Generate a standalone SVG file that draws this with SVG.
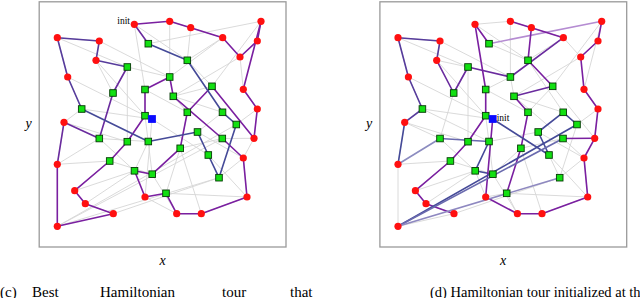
<svg xmlns="http://www.w3.org/2000/svg" xmlns:xlink="http://www.w3.org/1999/xlink" width="640" height="298" viewBox="0 0 640 298">
<style>
.frame{fill:#fff;stroke:#9a9a9a;stroke-width:1.3}
.gray{fill:none;stroke:#d6d6d6;stroke-width:0.9}
.tl{stroke-width:1.6;stroke-linecap:round;fill:none}
.t1{stroke:#7a1fa0}
.t2{stroke:#6a2b9e}
.t3{stroke:#573c9c}
.t4{stroke:#454a98}
.t4l{stroke:#6a6aae}
.lp{stroke:#b58cd2}
.lb{stroke:#8c8cc0}
.lv{stroke:#8e88c0}
.lab{font-family:"Liberation Serif","Times New Roman",serif;fill:#000}
.ax{font-style:italic;font-size:14px;text-anchor:middle}
.init{font-size:9.5px}
.cap{font-size:15px}
.capd{font-size:14.5px}
</style>
<defs>
<circle id="rn" r="3.6" fill="#ff1010"/>
<rect id="gn" x="-3.3" y="-3.3" width="6.6" height="6.6" fill="#12e012" stroke="#063a06" stroke-width="0.9"/>
<rect id="bn" x="-3.9" y="-3.9" width="7.8" height="7.8" fill="#0a0aff"/>
<path id="extras" d="M134.3 24.3L187.3 60.3M99.3 41L169.7 77M96 60.3L145 115.7M67.7 77L145 115.7M127.3 67L127.3 141.7M169.7 21.3L169.7 77M240 57L173.3 96.3M81.7 109L152 119M99.3 138.5L134.5 170.8M85.3 203.7L134.5 170.8M180.2 148.3L222.3 138.5M208.3 155L247 197M166 193.3L247 197M197.5 132L243.3 158M236.3 124.5L257.3 109M145 89.5L187.3 112.3M180.2 148.3L201.3 213.7M152.2 174.2L176.7 213.7M64 122.3L127.3 141.7M109.7 161L152.2 174.2M222.7 37.7L187.3 60.3M243.3 158L219 177.7M261 21.3L212 86.3M57.3 37.7L127.3 67M57.3 164.3L109.7 161M145 115.7L152.2 174.2M173.3 96.3L222.5 112.3M74.7 190.7L134.5 170.8M113.3 213.7L219 177.7"/>
</defs>
<rect width="640" height="298" fill="#fff"/>

<!-- ===== Panel (c) ===== -->
<g id="panel-c">
<rect class="frame" x="39.2" y="1.8" width="246.8" height="245.2"/>
<g id="connectors-c">
<use href="#extras" class="gray"/>
<path class="gray" d="M57.3 37.7L99.3 41M99.3 41L96 60.3M96 60.3L113 93M113 93L127.3 67M127.3 67L169.7 77M169.7 77L222.7 37.7M57.3 37.7L67.7 77M67.7 77L81.7 109M81.7 109L64 122.3M64 122.3L57.3 164.3M57.3 164.3L99.3 138.5M99.3 138.5L148.3 141.5M148.3 141.5L134.5 170.8M134.5 170.8L152.2 174.2M134.3 24.3L148.3 43.7M134.3 24.3L145 89.5M145 89.5L145 115.7M145 115.7L127.3 141.7M127.3 141.7L109.7 161M109.7 161L74.7 190.7M74.7 190.7L85.3 203.7M85.3 203.7L113.3 213.7M148.3 43.7L261 21.3M169.7 21.3L190.7 27.7M190.7 27.7L222.7 37.7M190.7 27.7L187.3 60.3M187.3 60.3L212 86.3M212 86.3L173.3 96.3M173.3 96.3L187.3 112.3M187.3 112.3L180.2 148.3M180.2 148.3L166 193.3M261 21.3L257.3 41M257.3 41L240 57M240 57L243.3 89.3M243.3 89.3L257.3 109M257.3 109L254 138.3M254 138.3L222.3 138.5M254 138.3L243.3 158M243.3 158L247 197M247 197L201.3 213.7M201.3 213.7L176.7 213.7M176.7 213.7L145 197M145 197L152 119M152 119L208.3 155M208.3 155L197.5 132M197.5 132L222.5 112.3M222.5 112.3L236.3 124.5M236.3 124.5L57.3 226.3M57.3 226.3L222.3 138.5M57.3 226.3L219 177.7"/>
<g id="tour-c">
<line class="tl t1" x1="134.3" y1="24.3" x2="169.7" y2="21.3"/>
<line class="tl t1" x1="169.7" y1="21.3" x2="190.7" y2="27.7"/>
<line class="tl t1" x1="190.7" y1="27.7" x2="222.7" y2="37.7"/>
<line class="tl t1" x1="222.7" y1="37.7" x2="240" y2="57"/>
<line class="tl t1" x1="240" y1="57" x2="257.3" y2="41"/>
<line class="tl t1" x1="257.3" y1="41" x2="261" y2="21.3"/>
<line class="tl t1" x1="261" y1="21.3" x2="243.3" y2="89.3"/>
<line class="tl t1" x1="243.3" y1="89.3" x2="257.3" y2="109"/>
<line class="tl t1" x1="257.3" y1="109" x2="254" y2="138.3"/>
<line class="tl t1" x1="254" y1="138.3" x2="212" y2="86.3"/>
<line class="tl t1" x1="212" y1="86.3" x2="187.3" y2="112.3"/>
<line class="tl t1" x1="187.3" y1="112.3" x2="180.2" y2="148.3"/>
<line class="tl t1" x1="180.2" y1="148.3" x2="152.2" y2="174.2"/>
<line class="tl t1" x1="152.2" y1="174.2" x2="134.5" y2="170.8"/>
<line class="tl t1" x1="134.5" y1="170.8" x2="145" y2="197"/>
<line class="tl t1" x1="145" y1="197" x2="166" y2="193.3"/>
<line class="tl t1" x1="166" y1="193.3" x2="176.7" y2="213.7"/>
<line class="tl t1" x1="176.7" y1="213.7" x2="201.3" y2="213.7"/>
<line class="tl t1" x1="201.3" y1="213.7" x2="247" y2="197"/>
<line class="tl t1" x1="247" y1="197" x2="243.3" y2="158"/>
<line class="tl t1" x1="243.3" y1="158" x2="222.3" y2="138.5"/>
<line class="tl t1" x1="222.3" y1="138.5" x2="173.3" y2="96.3"/>
<line class="tl t1" x1="173.3" y1="96.3" x2="169.7" y2="77"/>
<line class="tl t1" x1="169.7" y1="77" x2="145" y2="89.5"/>
<line class="tl t1" x1="145" y1="89.5" x2="145" y2="115.7"/>
<line class="tl t1" x1="145" y1="115.7" x2="127.3" y2="141.7"/>
<line class="tl t1" x1="127.3" y1="141.7" x2="109.7" y2="161"/>
<line class="tl t1" x1="109.7" y1="161" x2="74.7" y2="190.7"/>
<line class="tl t1" x1="74.7" y1="190.7" x2="85.3" y2="203.7"/>
<line class="tl t1" x1="85.3" y1="203.7" x2="113.3" y2="213.7"/>
<line class="tl t1" x1="113.3" y1="213.7" x2="57.3" y2="226.3"/>
<line class="tl t1" x1="57.3" y1="226.3" x2="57.3" y2="164.3"/>
<line class="tl t2" x1="57.3" y1="164.3" x2="64" y2="122.3"/>
<line class="tl t2" x1="64" y1="122.3" x2="99.3" y2="138.5"/>
<line class="tl t2" x1="99.3" y1="138.5" x2="113" y2="93"/>
<line class="tl t2" x1="113" y1="93" x2="127.3" y2="67"/>
<line class="tl t3" x1="127.3" y1="67" x2="96" y2="60.3"/>
<line class="tl t3" x1="96" y1="60.3" x2="99.3" y2="41"/>
<line class="tl t3" x1="99.3" y1="41" x2="57.3" y2="37.7"/>
<line class="tl t3" x1="57.3" y1="37.7" x2="67.7" y2="77"/>
<line class="tl t3" x1="67.7" y1="77" x2="81.7" y2="109"/>
<line class="tl t4" x1="81.7" y1="109" x2="148.3" y2="141.5"/>
<line class="tl t4" x1="148.3" y1="141.5" x2="197.5" y2="132"/>
<line class="tl t4" x1="197.5" y1="132" x2="208.3" y2="155"/>
<line class="tl t4" x1="208.3" y1="155" x2="219" y2="177.7"/>
<line class="tl t4" x1="219" y1="177.7" x2="236.3" y2="124.5"/>
<line class="tl t4" x1="236.3" y1="124.5" x2="222.5" y2="112.3"/>
<line class="tl t4" x1="222.5" y1="112.3" x2="187.3" y2="60.3"/>
<line class="tl t4" x1="187.3" y1="60.3" x2="148.3" y2="43.7"/>
<line class="tl t2" x1="148.3" y1="43.7" x2="134.3" y2="24.3"/>
</g>
</g>
<g id="nodes-c">
<g id="c-ra"><use href="#rn" x="134.3" y="24.3"/></g>
<g id="c-rb"><use href="#rn" x="169.7" y="21.3"/></g>
<g id="c-rc"><use href="#rn" x="190.7" y="27.7"/></g>
<g id="c-rd"><use href="#rn" x="222.7" y="37.7"/></g>
<g id="c-re"><use href="#rn" x="240" y="57"/></g>
<g id="c-rf"><use href="#rn" x="257.3" y="41"/></g>
<g id="c-rg"><use href="#rn" x="261" y="21.3"/></g>
<g id="c-rh"><use href="#rn" x="243.3" y="89.3"/></g>
<g id="c-ri"><use href="#rn" x="257.3" y="109"/></g>
<g id="c-rj"><use href="#rn" x="254" y="138.3"/></g>
<g id="c-rk"><use href="#rn" x="145" y="197"/></g>
<g id="c-rl"><use href="#rn" x="176.7" y="213.7"/></g>
<g id="c-rm"><use href="#rn" x="201.3" y="213.7"/></g>
<g id="c-rn"><use href="#rn" x="247" y="197"/></g>
<g id="c-ro"><use href="#rn" x="243.3" y="158"/></g>
<g id="c-rp"><use href="#rn" x="74.7" y="190.7"/></g>
<g id="c-rq"><use href="#rn" x="85.3" y="203.7"/></g>
<g id="c-rr"><use href="#rn" x="113.3" y="213.7"/></g>
<g id="c-rs"><use href="#rn" x="57.3" y="226.3"/></g>
<g id="c-rt"><use href="#rn" x="57.3" y="164.3"/></g>
<g id="c-ru"><use href="#rn" x="64" y="122.3"/></g>
<g id="c-rv"><use href="#rn" x="96" y="60.3"/></g>
<g id="c-rw"><use href="#rn" x="99.3" y="41"/></g>
<g id="c-rx"><use href="#rn" x="57.3" y="37.7"/></g>
<g id="c-ry"><use href="#rn" x="67.7" y="77"/></g>
<g id="c-gA"><use href="#gn" x="212" y="86.3"/></g>
<g id="c-gB"><use href="#gn" x="187.3" y="112.3"/></g>
<g id="c-gC"><use href="#gn" x="180.2" y="148.3"/></g>
<g id="c-gD"><use href="#gn" x="152.2" y="174.2"/></g>
<g id="c-gE"><use href="#gn" x="134.5" y="170.8"/></g>
<g id="c-gF"><use href="#gn" x="166" y="193.3"/></g>
<g id="c-gG"><use href="#gn" x="222.3" y="138.5"/></g>
<g id="c-gH"><use href="#gn" x="173.3" y="96.3"/></g>
<g id="c-gI"><use href="#gn" x="169.7" y="77"/></g>
<g id="c-gJ"><use href="#gn" x="145" y="89.5"/></g>
<g id="c-gK"><use href="#gn" x="145" y="115.7"/></g>
<g id="c-gL"><use href="#gn" x="127.3" y="141.7"/></g>
<g id="c-gM"><use href="#gn" x="109.7" y="161"/></g>
<g id="c-gN"><use href="#gn" x="99.3" y="138.5"/></g>
<g id="c-gO"><use href="#gn" x="113" y="93"/></g>
<g id="c-gP"><use href="#gn" x="127.3" y="67"/></g>
<g id="c-gQ"><use href="#gn" x="81.7" y="109"/></g>
<g id="c-gR"><use href="#gn" x="148.3" y="141.5"/></g>
<g id="c-gS"><use href="#gn" x="197.5" y="132"/></g>
<g id="c-gT"><use href="#gn" x="208.3" y="155"/></g>
<g id="c-gU"><use href="#gn" x="219" y="177.7"/></g>
<g id="c-gV"><use href="#gn" x="236.3" y="124.5"/></g>
<g id="c-gW"><use href="#gn" x="222.5" y="112.3"/></g>
<g id="c-gX"><use href="#gn" x="187.3" y="60.3"/></g>
<g id="c-gY"><use href="#gn" x="148.3" y="43.7"/></g>
<g id="c-blue"><use href="#bn" x="152" y="119"/></g>
</g>
<text class="lab init" x="117.3" y="24">init</text>
<text class="lab ax" x="162.5" y="265">x</text>
<text class="lab ax" x="28.5" y="128">y</text>
</g>

<!-- ===== Panel (d) ===== -->
<g id="panel-d" transform="translate(340.7,0)">
<rect class="frame" x="39.2" y="1.8" width="246.8" height="245.2"/>
<g id="connectors-d">
<use href="#extras" class="gray"/>
<path class="gray" d="M134.3 24.3L169.7 21.3M169.7 21.3L190.7 27.7M190.7 27.7L222.7 37.7M222.7 37.7L240 57M240 57L257.3 41M257.3 41L261 21.3M261 21.3L243.3 89.3M243.3 89.3L257.3 109M257.3 109L254 138.3M254 138.3L212 86.3M212 86.3L187.3 112.3M187.3 112.3L180.2 148.3M180.2 148.3L152.2 174.2M152.2 174.2L134.5 170.8M134.5 170.8L145 197M145 197L166 193.3M166 193.3L176.7 213.7M176.7 213.7L201.3 213.7M201.3 213.7L247 197M247 197L243.3 158M243.3 158L222.3 138.5M222.3 138.5L173.3 96.3M173.3 96.3L169.7 77M169.7 77L145 89.5M145 89.5L145 115.7M145 115.7L127.3 141.7M127.3 141.7L109.7 161M109.7 161L74.7 190.7M74.7 190.7L85.3 203.7M85.3 203.7L113.3 213.7M113.3 213.7L57.3 226.3M57.3 226.3L57.3 164.3M57.3 164.3L64 122.3M64 122.3L99.3 138.5M99.3 138.5L113 93M113 93L127.3 67M127.3 67L96 60.3M96 60.3L99.3 41M99.3 41L57.3 37.7M57.3 37.7L67.7 77M67.7 77L81.7 109M81.7 109L148.3 141.5M148.3 141.5L197.5 132M197.5 132L208.3 155M208.3 155L219 177.7M219 177.7L236.3 124.5M236.3 124.5L222.5 112.3M222.5 112.3L187.3 60.3M187.3 60.3L148.3 43.7M148.3 43.7L134.3 24.3"/>
<g id="tour-d">
<line class="tl t3" x1="57.3" y1="37.7" x2="99.3" y2="41"/>
<line class="tl t3" x1="99.3" y1="41" x2="96" y2="60.3"/>
<line class="tl t2" x1="96" y1="60.3" x2="113" y2="93"/>
<line class="tl t2" x1="113" y1="93" x2="127.3" y2="67"/>
<line class="tl t2" x1="127.3" y1="67" x2="169.7" y2="77"/>
<line class="tl t2" x1="169.7" y1="77" x2="222.7" y2="37.7"/>
<line class="tl t3" x1="57.3" y1="37.7" x2="67.7" y2="77"/>
<line class="tl t3" x1="67.7" y1="77" x2="81.7" y2="109"/>
<line class="tl t3" x1="81.7" y1="109" x2="64" y2="122.3"/>
<line class="tl t4" x1="64" y1="122.3" x2="57.3" y2="164.3"/>
<line class="tl lb" x1="57.3" y1="164.3" x2="99.3" y2="138.5"/>
<line class="tl t4l" x1="99.3" y1="138.5" x2="148.3" y2="141.5"/>
<line class="tl t4" x1="148.3" y1="141.5" x2="134.5" y2="170.8"/>
<line class="tl t4" x1="134.5" y1="170.8" x2="152.2" y2="174.2"/>
<line class="tl t1" x1="134.3" y1="24.3" x2="148.3" y2="43.7"/>
<line class="tl t1" x1="134.3" y1="24.3" x2="145" y2="89.5"/>
<line class="tl t1" x1="145" y1="89.5" x2="145" y2="115.7"/>
<line class="tl t1" x1="145" y1="115.7" x2="127.3" y2="141.7"/>
<line class="tl t1" x1="127.3" y1="141.7" x2="109.7" y2="161"/>
<line class="tl t1" x1="109.7" y1="161" x2="74.7" y2="190.7"/>
<line class="tl t1" x1="74.7" y1="190.7" x2="85.3" y2="203.7"/>
<line class="tl t1" x1="85.3" y1="203.7" x2="113.3" y2="213.7"/>
<line class="tl lp" x1="148.3" y1="43.7" x2="261" y2="21.3"/>
<line class="tl t1" x1="169.7" y1="21.3" x2="190.7" y2="27.7"/>
<line class="tl t1" x1="190.7" y1="27.7" x2="222.7" y2="37.7"/>
<line class="tl t1" x1="190.7" y1="27.7" x2="187.3" y2="60.3"/>
<line class="tl t1" x1="187.3" y1="60.3" x2="212" y2="86.3"/>
<line class="tl t2" x1="212" y1="86.3" x2="173.3" y2="96.3"/>
<line class="tl t1" x1="173.3" y1="96.3" x2="187.3" y2="112.3"/>
<line class="tl t1" x1="187.3" y1="112.3" x2="180.2" y2="148.3"/>
<line class="tl t1" x1="180.2" y1="148.3" x2="166" y2="193.3"/>
<line class="tl t1" x1="261" y1="21.3" x2="257.3" y2="41"/>
<line class="tl t1" x1="257.3" y1="41" x2="240" y2="57"/>
<line class="tl t1" x1="240" y1="57" x2="243.3" y2="89.3"/>
<line class="tl t1" x1="243.3" y1="89.3" x2="257.3" y2="109"/>
<line class="tl t1" x1="257.3" y1="109" x2="254" y2="138.3"/>
<line class="tl t1" x1="254" y1="138.3" x2="222.3" y2="138.5"/>
<line class="tl t1" x1="254" y1="138.3" x2="243.3" y2="158"/>
<line class="tl t1" x1="243.3" y1="158" x2="247" y2="197"/>
<line class="tl t1" x1="247" y1="197" x2="201.3" y2="213.7"/>
<line class="tl t1" x1="201.3" y1="213.7" x2="176.7" y2="213.7"/>
<line class="tl t1" x1="176.7" y1="213.7" x2="145" y2="197"/>
<line class="tl t1" x1="145" y1="197" x2="152" y2="119"/>
<line class="tl t4" x1="152" y1="119" x2="208.3" y2="155"/>
<line class="tl t4" x1="208.3" y1="155" x2="197.5" y2="132"/>
<line class="tl t4" x1="197.5" y1="132" x2="222.5" y2="112.3"/>
<line class="tl t4" x1="222.5" y1="112.3" x2="236.3" y2="124.5"/>
<line class="tl t4" x1="236.3" y1="124.5" x2="57.3" y2="226.3"/>
<line class="tl t4l" x1="57.3" y1="226.3" x2="222.3" y2="138.5"/>
<line class="tl lv" x1="57.3" y1="226.3" x2="219" y2="177.7"/>
</g>
</g>
<g id="nodes-d">
<g id="d-ra"><use href="#rn" x="134.3" y="24.3"/></g>
<g id="d-rb"><use href="#rn" x="169.7" y="21.3"/></g>
<g id="d-rc"><use href="#rn" x="190.7" y="27.7"/></g>
<g id="d-rd"><use href="#rn" x="222.7" y="37.7"/></g>
<g id="d-re"><use href="#rn" x="240" y="57"/></g>
<g id="d-rf"><use href="#rn" x="257.3" y="41"/></g>
<g id="d-rg"><use href="#rn" x="261" y="21.3"/></g>
<g id="d-rh"><use href="#rn" x="243.3" y="89.3"/></g>
<g id="d-ri"><use href="#rn" x="257.3" y="109"/></g>
<g id="d-rj"><use href="#rn" x="254" y="138.3"/></g>
<g id="d-rk"><use href="#rn" x="145" y="197"/></g>
<g id="d-rl"><use href="#rn" x="176.7" y="213.7"/></g>
<g id="d-rm"><use href="#rn" x="201.3" y="213.7"/></g>
<g id="d-rn"><use href="#rn" x="247" y="197"/></g>
<g id="d-ro"><use href="#rn" x="243.3" y="158"/></g>
<g id="d-rp"><use href="#rn" x="74.7" y="190.7"/></g>
<g id="d-rq"><use href="#rn" x="85.3" y="203.7"/></g>
<g id="d-rr"><use href="#rn" x="113.3" y="213.7"/></g>
<g id="d-rs"><use href="#rn" x="57.3" y="226.3"/></g>
<g id="d-rt"><use href="#rn" x="57.3" y="164.3"/></g>
<g id="d-ru"><use href="#rn" x="64" y="122.3"/></g>
<g id="d-rv"><use href="#rn" x="96" y="60.3"/></g>
<g id="d-rw"><use href="#rn" x="99.3" y="41"/></g>
<g id="d-rx"><use href="#rn" x="57.3" y="37.7"/></g>
<g id="d-ry"><use href="#rn" x="67.7" y="77"/></g>
<g id="d-gA"><use href="#gn" x="212" y="86.3"/></g>
<g id="d-gB"><use href="#gn" x="187.3" y="112.3"/></g>
<g id="d-gC"><use href="#gn" x="180.2" y="148.3"/></g>
<g id="d-gD"><use href="#gn" x="152.2" y="174.2"/></g>
<g id="d-gE"><use href="#gn" x="134.5" y="170.8"/></g>
<g id="d-gF"><use href="#gn" x="166" y="193.3"/></g>
<g id="d-gG"><use href="#gn" x="222.3" y="138.5"/></g>
<g id="d-gH"><use href="#gn" x="173.3" y="96.3"/></g>
<g id="d-gI"><use href="#gn" x="169.7" y="77"/></g>
<g id="d-gJ"><use href="#gn" x="145" y="89.5"/></g>
<g id="d-gK"><use href="#gn" x="145" y="115.7"/></g>
<g id="d-gL"><use href="#gn" x="127.3" y="141.7"/></g>
<g id="d-gM"><use href="#gn" x="109.7" y="161"/></g>
<g id="d-gN"><use href="#gn" x="99.3" y="138.5"/></g>
<g id="d-gO"><use href="#gn" x="113" y="93"/></g>
<g id="d-gP"><use href="#gn" x="127.3" y="67"/></g>
<g id="d-gQ"><use href="#gn" x="81.7" y="109"/></g>
<g id="d-gR"><use href="#gn" x="148.3" y="141.5"/></g>
<g id="d-gS"><use href="#gn" x="197.5" y="132"/></g>
<g id="d-gT"><use href="#gn" x="208.3" y="155"/></g>
<g id="d-gU"><use href="#gn" x="219" y="177.7"/></g>
<g id="d-gV"><use href="#gn" x="236.3" y="124.5"/></g>
<g id="d-gW"><use href="#gn" x="222.5" y="112.3"/></g>
<g id="d-gX"><use href="#gn" x="187.3" y="60.3"/></g>
<g id="d-gY"><use href="#gn" x="148.3" y="43.7"/></g>
<g id="d-blue"><use href="#bn" x="152" y="119"/></g>
</g>
<text class="lab init" x="156" y="121">init</text>
<text class="lab ax" x="162.5" y="265">x</text>
<text class="lab ax" x="28.5" y="128">y</text>
</g>

<g id="captions" class="lab">
<text class="cap" x="0" y="296.5">(c)</text>
<text class="cap" x="32" y="296.5">Best</text>
<text class="cap" x="100" y="296.5">Hamiltonian</text>
<text class="cap" x="222" y="296.5">tour</text>
<text class="cap" x="290" y="296.5">that</text>
<text class="capd" x="430" y="296.5">(d) Hamiltonian tour initialized at th</text>
</g>
</svg>
